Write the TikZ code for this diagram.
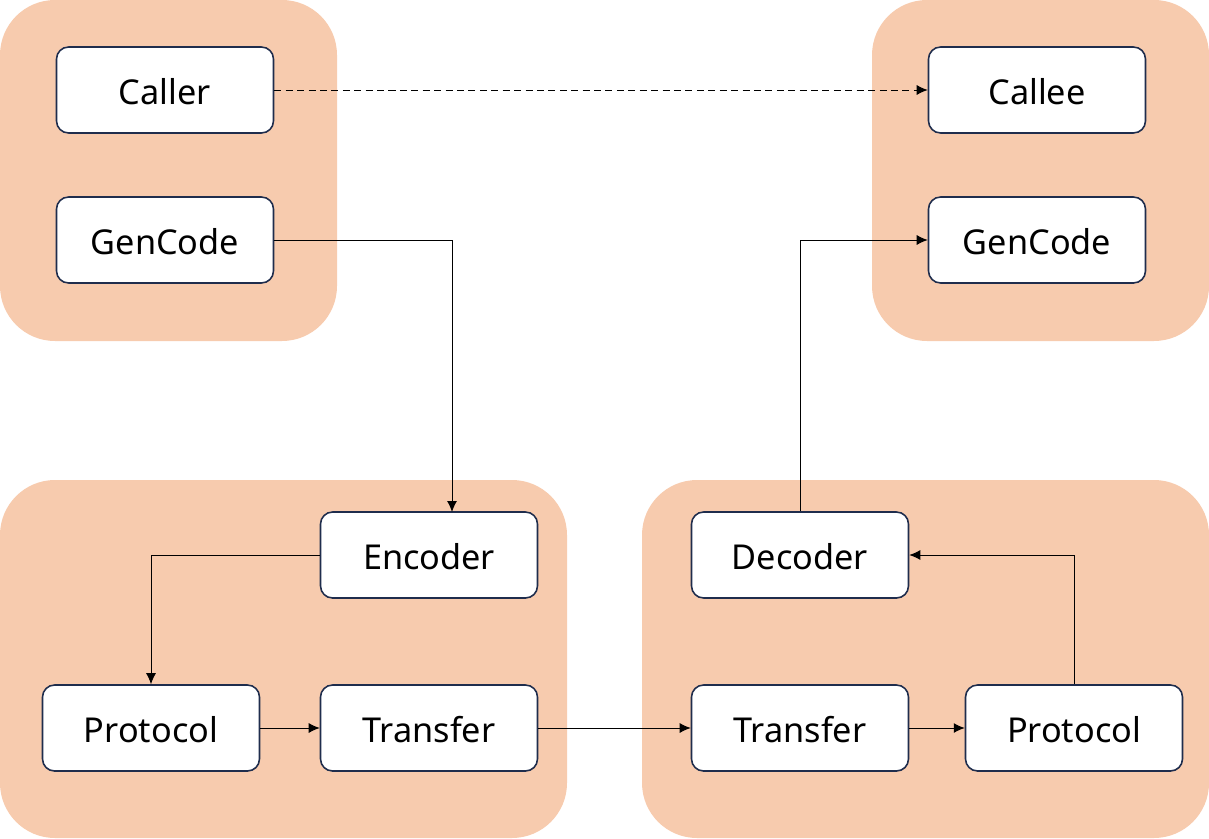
\documentclass[tikz,border=0pt]{standalone}
\usepackage{fontspec}
\setmainfont{Noto Sans}
\usetikzlibrary{arrows.meta}
\definecolor{peach}{HTML}{F7CBAE}
\definecolor{navy}{HTML}{1F2D4D}
\begin{document}
\begin{tikzpicture}[x=0.02cm, y=-0.02cm,
        panel/.style={fill=peach, draw=none, rounded corners=1.1cm},
        block/.style={rectangle, draw=navy, line width=0.9pt, fill=white, minimum width=4.34cm, minimum height=1.72cm, rounded corners=0.24cm, text height=0.6cm, text depth=0.03cm, font=\fontsize{19.5}{23}\selectfont},
        link/.style={line width=0.55pt, -{Latex[length=2.2mm, width=2mm]}}]
        \useasboundingbox (0,0) rectangle (1209,838);
        % background groups
        \fill[panel] (0,0) rectangle (337,341);
        \fill[panel] (872,0) rectangle (1209,341);
        \fill[panel] (0,480) rectangle (567,838);
        \fill[panel] (642,480) rectangle (1209,838);
        % client side
        \node[block] (caller) at (165,90) {Caller};
        \node[block] (gencl) at (165,240) {GenCode};
        \node[block] (enc) at (429,555) {Encoder};
        \node[block] (protl) at (151,728) {Protocol};
        \node[block] (transl) at (429,728) {Transfer};
        % server side
        \node[block] (callee) at (1037,90) {Callee};
        \node[block] (gensv) at (1037,240) {GenCode};
        \node[block] (dec) at (800,555) {Decoder};
        \node[block] (transr) at (800,728) {Transfer};
        \node[block] (protr) at (1074,728) {Protocol};
        \coordinate (encin) at (452,512);
        \draw[link, dash pattern=on 4pt off 2.5pt] (caller) -- (callee);
        \draw[link] (gencl.east) -| (encin);
        \draw[link] (enc.west) -| (protl.north);
        \draw[link] (protl) -- (transl);
        \draw[link] (transl) -- (transr);
        \draw[link] (transr) -- (protr);
        \draw[link] (protr.north) |- (dec.east);
        \draw[link] (dec.north) |- (gensv.west);
    \end{tikzpicture}
\end{document}
